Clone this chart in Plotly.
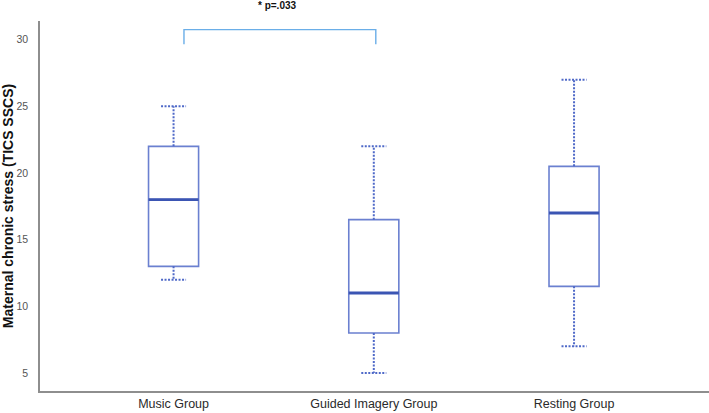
import plotly.graph_objects as go

groups = ["Music Group", "Guided Imagery Group", "Resting Group"]
whisker_low = [12, 5, 7]
q1 = [13, 8, 11.5]
median = [18, 11, 17]
q3 = [22, 16.5, 20.5]
whisker_high = [25, 22, 27]

y_ticks = [5, 10, 15, 20, 25, 30]
compare_groups = [0, 1]
bracket_top = 30.75
bracket_bottom = 29.65
p_label = "* p=.033"

BOX_W = 0.25
CAP_HALF = BOX_W / 4
BOX_COLOR = "#6b80d0"
MED_COLOR = "#3b55b3"
WHISK_COLOR = "#4f69c8"
AXIS_COLOR = "#8e8e8e"
xs = list(range(len(groups)))

fig = go.Figure()

fig.add_trace(go.Box(
    x=xs, q1=q1, median=median, q3=q3, lowerfence=q1, upperfence=q3,
    width=BOX_W, whiskerwidth=0, fillcolor="rgba(255,255,255,0)",
    line=dict(color=BOX_COLOR, width=1.6), boxpoints=False,
    hoverinfo="skip", showlegend=False,
))

# whiskers (dotted)
wx, wy = [], []
for i in xs:
    wx += [i, i, None, i, i, None]
    wy += [q3[i], whisker_high[i], None, q1[i], whisker_low[i], None]
    wx += [i - CAP_HALF, i + CAP_HALF, None, i - CAP_HALF, i + CAP_HALF, None]
    wy += [whisker_high[i], whisker_high[i], None, whisker_low[i], whisker_low[i], None]
fig.add_trace(go.Scatter(x=wx, y=wy, mode="lines",
                         line=dict(color=WHISK_COLOR, width=2, dash="2px,1.5px"),
                         hoverinfo="skip", showlegend=False))

# medians
mx, my = [], []
for i in xs:
    mx += [i - BOX_W / 2, i + BOX_W / 2, None]
    my += [median[i], median[i], None]
fig.add_trace(go.Scatter(x=mx, y=my, mode="lines",
                         line=dict(color=MED_COLOR, width=2.8),
                         hoverinfo="skip", showlegend=False))

# significance bracket
a, b = compare_groups
fig.add_trace(go.Scatter(
    x=[a + 0.052, a + 0.052, b + 0.01, b + 0.01],
    y=[bracket_bottom, bracket_top, bracket_top, bracket_bottom],
    mode="lines", line=dict(color="#6aaee8", width=1.4),
    hoverinfo="skip", showlegend=False, cliponaxis=False,
))
fig.add_annotation(x=(a + b) / 2 + 0.02, y=1, xref="x", yref="paper",
                   yanchor="middle", yshift=16,
                   text="<b>" + p_label + "</b>", showarrow=False,
                   font=dict(size=10, color="#111111"))

fig.update_layout(
    width=709, height=413,
    margin=dict(l=40, r=0, t=21, b=22),
    paper_bgcolor="white", plot_bgcolor="white",
    font=dict(family="Liberation Sans, Arial, sans-serif"),
)
fig.update_xaxes(
    range=[-0.667, 2.674], tickvals=xs, ticktext=groups,
    showgrid=False, zeroline=False, showline=True, linecolor=AXIS_COLOR, linewidth=1.5,
    tickfont=dict(size=12.5, color="#2a2a2a"), ticks="", automargin=False,
)
fig.update_yaxes(
    range=[3.65, 31.4], tickvals=y_ticks,
    showgrid=False, zeroline=False, showline=True, linecolor=AXIS_COLOR, linewidth=1.5,
    tickfont=dict(size=10.5, color="#555555"), ticks="", ticklabelstandoff=8,
    title=dict(text="<b>Maternal chronic stress (TICS SSCS)</b>",
               font=dict(size=14, color="#111111"), standoff=6),
    automargin=False,
)

fig.write_html("out.html", config={"displayModeBar": False},
               post_script="document.body.style.margin='0px';document.body.style.overflow='hidden';")
